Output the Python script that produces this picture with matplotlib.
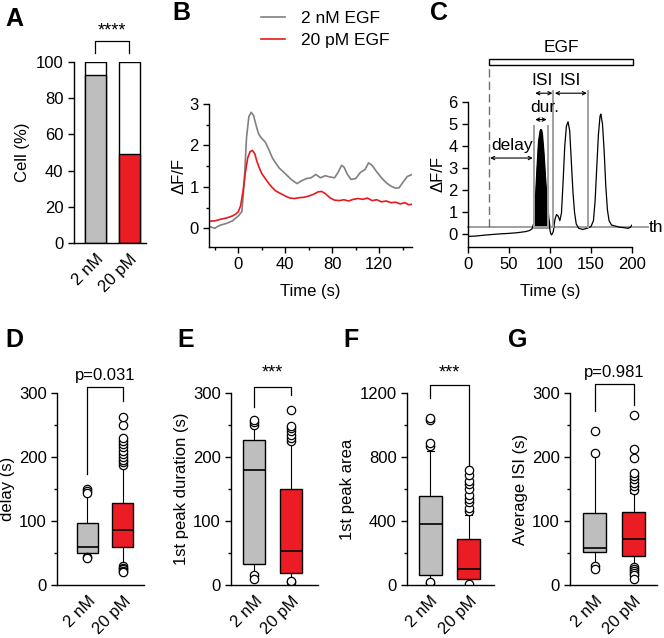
import numpy as np
import matplotlib
matplotlib.use("Agg")
import matplotlib.pyplot as plt
from matplotlib.patches import Rectangle

plt.rcParams['font.family'] = ['Liberation Sans', 'DejaVu Sans']
plt.rcParams['font.size'] = 12
plt.rcParams['axes.linewidth'] = 1.0

GRAY = "#bebebe"
RED = "#ec1c24"
LINE_GRAY = "#808080"
LINE_RED = "#e8191f"

# ---------------- data ----------------
groups = ["2 nM", "20 pM"]

# A: fraction of responding cells (%)
cell_pct = [93, 49]
sig_a = "****"

# B: mean traces
t_gray = [-25, -22, -20, -18, -15, -10, -5, 0, 3, 5, 7, 9, 11, 13, 15, 17, 19, 21, 23,
          26, 29, 32, 35, 40, 45, 50, 54, 58, 62, 66, 70, 74, 78, 82, 85, 88, 90, 93,
          96, 100, 104, 108, 111, 114, 118, 122, 126, 130, 134, 137, 140, 144, 148]
v_gray = [0.05, 0.02, 0.0, 0.04, 0.08, 0.12, 0.18, 0.3, 0.4, 1.1, 2.2, 2.7, 2.8, 2.72, 2.5,
          2.3, 2.2, 2.14, 2.08, 1.9, 1.7, 1.57, 1.45, 1.32, 1.18, 1.08, 1.15, 1.2, 1.22, 1.3,
          1.22, 1.27, 1.24, 1.22, 1.35, 1.52, 1.48, 1.3, 1.18, 1.2, 1.35, 1.42, 1.58, 1.52,
          1.36, 1.22, 1.1, 1.02, 0.97, 0.98, 1.1, 1.25, 1.3]
t_red = [-25, -20, -15, -10, -5, -2, 0, 2, 4, 6, 8, 10, 12, 14, 16, 18, 20, 23, 26, 29,
         32, 36, 40, 44, 48, 52, 56, 60, 64, 68, 71, 74, 78, 82, 86, 90, 94, 98, 102,
         106, 110, 114, 118, 122, 126, 130, 134, 138, 142, 145, 148]
v_red = [0.17, 0.18, 0.22, 0.25, 0.3, 0.35, 0.4, 0.55, 0.9, 1.35, 1.7, 1.85, 1.88, 1.8,
         1.6, 1.45, 1.32, 1.2, 1.08, 0.98, 0.9, 0.84, 0.78, 0.73, 0.72, 0.74, 0.75, 0.78,
         0.82, 0.88, 0.89, 0.84, 0.74, 0.68, 0.67, 0.69, 0.66, 0.7, 0.72, 0.7, 0.73, 0.67,
         0.69, 0.64, 0.66, 0.62, 0.63, 0.59, 0.62, 0.57, 0.58]

# C: single-cell example trace
t_c = [0, 10, 20, 30, 40, 50, 60, 70, 75, 78, 80, 82, 84, 86, 88, 89, 90, 92, 94, 96,
       98, 100, 101, 102, 104, 106, 108, 110, 112, 114, 116, 118, 120, 122, 124, 126,
       128, 130, 132, 135, 140, 145, 150, 153, 155, 157, 159, 161, 162, 164, 166, 168,
       170, 172, 175, 180, 185, 190, 195, 198, 200]
v_c = [-0.12, -0.1, -0.06, -0.03, 0.0, 0.02, 0.05, 0.1, 0.15, 0.22, 0.45, 1.4, 2.9, 4.2,
       4.7, 4.75, 4.6, 3.7, 2.5, 1.5, 0.7, 0.15, 0.0, -0.05, 0.1, 0.65, 0.88, 0.8, 0.6,
       0.95, 2.4, 4.0, 4.9, 5.1, 4.7, 3.3, 1.9, 0.95, 0.45, 0.25, 0.2, 0.25, 0.33, 0.6,
       1.5, 3.0, 4.5, 5.35, 5.45, 5.0, 3.8, 2.2, 1.1, 0.6, 0.4, 0.35, 0.3, 0.28, 0.25,
       0.3, 0.4]
threshold = 0.3
egf_start, egf_end = 26, 201
first_on, first_off = 80, 98
isi_marks = [104, 146]

# D-G: box statistics [2 nM, 20 pM]
delay_stats = dict(q1=[50, 60], med=[60, 86], q3=[97, 128], lo=[45, 35], hi=[142, 183],
                   fl=[[150, 147, 143, 44, 42], [188, 192, 196, 200, 205, 210, 215, 220,
                                                   225, 230, 250, 262, 30, 27, 25, 22, 20]])
dur_stats = dict(q1=[33, 18], med=[179, 53], q3=[227, 150], lo=[18, 9], hi=[248, 222],
                 fl=[[250, 255, 258, 15, 10], [225, 230, 235, 240, 245, 248, 273, 5, 7]])
area_stats = dict(q1=[62, 36], med=[382, 103], q3=[555, 288], lo=[22, 12], hi=[838, 440],
                  fl=[[870, 890, 1030, 1045, 15, 20],
                      [460, 480, 520, 540, 560, 600, 630, 650, 690, 720, 5]])
isi_stats = dict(q1=[52, 45], med=[58, 72], q3=[113, 114], lo=[33, 30], hi=[205, 143],
                 fl=[[240, 206, 30, 25], [148, 155, 160, 165, 170, 175, 198, 212, 265,
                                            28, 25, 22, 18, 15, 10]])

fig = plt.figure(figsize=(6.64, 6.38), dpi=100)


def clean(ax):
    ax.spines['top'].set_visible(False)
    ax.spines['right'].set_visible(False)
    ax.tick_params(direction='out', length=4, width=1, which='major', labelsize=12)
    ax.tick_params(direction='out', length=2.5, width=1, which='minor')


def bracket(ax, x1, x2, y1, y2, ytop, label, ytext, fs=12):
    ax.plot([x1, x1, x2, x2], [y1, ytop, ytop, y2], color='black', lw=0.9, clip_on=False)
    ax.text((x1 + x2) / 2, ytext, label, ha='center', va='bottom', fontsize=fs,
            clip_on=False)


# ---------------- A ----------------
axA = fig.add_axes([74 / 664, 1 - 243 / 638, 72 / 664, 181 / 638])
clean(axA)
xa = [1, 2]
axA.bar(xa, [100, 100], width=0.62, color='white', edgecolor='black', lw=1)
axA.bar(xa, cell_pct, width=0.62, color=[GRAY, RED], edgecolor='black', lw=1)
axA.set_xlim(0.37, 2.49)
axA.set_ylim(0, 100)
axA.set_yticks([0, 20, 40, 60, 80, 100])
axA.set_xticks(xa)
axA.set_xticklabels(groups, rotation=45, ha='right', rotation_mode='anchor')
axA.tick_params(axis='x', length=0, pad=6)
axA.set_ylabel("Cell (%)", labelpad=4)
bracket(axA, 1, 2, 105, 105, 111.5, sig_a, 112.5, fs=13)

# ---------------- B ----------------
axB = fig.add_axes([209 / 664, 1 - 247 / 638, 203 / 664, 143 / 638])
clean(axB)
axB.plot(t_gray, v_gray, color=LINE_GRAY, lw=1.2, label="2 nM EGF")
axB.plot(t_red, v_red, color=LINE_RED, lw=1.2, label="20 pM EGF")
axB.set_xlim(-25, 148)
axB.set_ylim(-0.45, 3)
axB.spines['left'].set_bounds(-0.45, 3)
axB.set_xticks([0, 40, 80, 120])
axB.set_xticks([-20, 20, 60, 100, 140], minor=True)
axB.set_yticks([0, 1, 2, 3])
axB.set_yticks([0.5, 1.5, 2.5], minor=True)
axB.set_xlabel("Time (s)", labelpad=8)
axB.set_ylabel("ΔF/F", labelpad=2)
axB.legend(loc='upper left', bbox_to_anchor=(0.18, 1.76), frameon=False, handlelength=1.4,
           handletextpad=0.9, labelspacing=0.4, fontsize=12.5)

# ---------------- C ----------------
axC = fig.add_axes([468 / 664, 1 - 247 / 638, 164 / 664, 145 / 638])
clean(axC)
axC.set_xlim(0, 200)
axC.set_ylim(-0.6, 6)
axC.axhline(threshold, xmin=0, xmax=1.1, color='#a0a0a0', lw=1.4, clip_on=False)
tc = np.array(t_c)
vc = np.array(v_c)
axC.fill_between(tc, vc, threshold, where=(tc >= first_on) & (tc <= first_off) & (vc >= threshold),
                 color='black', interpolate=True)
axC.plot(t_c, v_c, color='black', lw=0.9)
axC.plot([first_on, first_on], [threshold, 4.9], color='#a0a0a0', lw=1.4)
axC.plot([first_off, first_off], [threshold, 4.9], color='#a0a0a0', lw=1.4)
for xm in isi_marks:
    axC.plot([xm, xm], [threshold, 6.5], color='#a0a0a0', lw=1.4, clip_on=False)
axC.plot([egf_start, egf_start], [threshold, 7.7], color='#707070', lw=1, ls=(0, (6, 3)),
         clip_on=False)
axC.add_patch(Rectangle((egf_start, 7.7), egf_end - egf_start, 0.25, facecolor='white',
                        edgecolor='black', lw=1, clip_on=False))
axC.text((egf_start + egf_end) / 2, 8.15, "EGF", ha='center', va='bottom', fontsize=12.5)
arrow = dict(arrowstyle='<->', color='black', lw=0.8, shrinkA=0, shrinkB=0,
             mutation_scale=6)
axC.annotate("", xy=(egf_start + 1, 3.45), xytext=(first_on - 1, 3.45), arrowprops=arrow)
axC.text(egf_start + 2, 3.7, "delay", ha='left', va='bottom', fontsize=12.5)
axC.annotate("", xy=(first_on + 2, 5.2), xytext=(first_off - 2, 5.2), arrowprops=arrow)
axC.text(93, 5.4, "dur.", ha='center', va='bottom', fontsize=12.5, clip_on=False)
axC.annotate("", xy=(first_on + 2, 6.4), xytext=(isi_marks[0] - 1, 6.4), arrowprops=arrow,
             annotation_clip=False)
axC.annotate("", xy=(isi_marks[0] + 2, 6.4), xytext=(isi_marks[1] - 1, 6.4),
             arrowprops=arrow, annotation_clip=False)
axC.text(90, 6.65, "ISI", ha='center', va='bottom', fontsize=12.5, clip_on=False)
axC.text(124, 6.65, "ISI", ha='center', va='bottom', fontsize=12.5, clip_on=False)
axC.text(221, threshold, "th", ha='left', va='center', fontsize=12.5, clip_on=False)
axC.set_xticks([0, 50, 100, 150, 200])
axC.set_yticks([0, 1, 2, 3, 4, 5, 6])
axC.set_xlabel("Time (s)", labelpad=8)
axC.set_ylabel("ΔF/F", labelpad=2)


# ---------------- D-G ----------------
def box_panel(left, xlim, stats, ylim, yticks, yminor, ylabel, br, sig):
    ax = fig.add_axes([left / 664, 1 - 585 / 638, 87 / 664, 192 / 638])
    clean(ax)
    bx = []
    for i in range(2):
        bx.append(dict(q1=stats['q1'][i], med=stats['med'][i], q3=stats['q3'][i],
                       whislo=stats['lo'][i], whishi=stats['hi'][i],
                       fliers=stats['fl'][i], label=groups[i]))
    res = ax.bxp(bx, positions=[1, 2], widths=0.6, patch_artist=True, capwidths=0.18,
                 boxprops=dict(lw=1, edgecolor='black'),
                 medianprops=dict(color='black', lw=1.2),
                 whiskerprops=dict(color='black', lw=0.8),
                 capprops=dict(color='black', lw=0.8),
                 flierprops=dict(marker='o', mfc='white', mec='black', ms=6, mew=0.9))
    for patch, c in zip(res['boxes'], [GRAY, RED]):
        patch.set_facecolor(c)
    ax.set_xlim(*xlim)
    ax.set_ylim(*ylim)
    ax.set_yticks(yticks)
    ax.set_yticks(yminor, minor=True)
    ax.set_xticks([1, 2])
    ax.set_xticklabels(groups, rotation=45, ha='right', rotation_mode='anchor')
    ax.tick_params(axis='x', length=0, pad=6)
    ax.set_ylabel(ylabel, labelpad=3)
    y1, y2, ytop, ytext = br
    bracket(ax, 1, 2, y1, y2, ytop, sig, ytext, fs=12 if sig.startswith('p') else 13)
    return ax


box_panel(57, (0.14, 2.6), delay_stats, (0, 300), [0, 100, 200, 300], [50, 150, 250],
          "delay (s)", (173, 288, 309, 316), "p=0.031")
box_panel(231, (0.36, 2.75), dur_stats, (0, 300), [0, 100, 200, 300], [50, 150, 250],
          "1st peak duration (s)", (278, 297, 309, 318), "***")
box_panel(407, (0.4, 2.65), area_stats, (0, 1200), [0, 400, 800, 1200], [200, 600, 1000],
          "1st peak area", (1170, 750, 1250, 1272), "***")
box_panel(570, (0.37, 2.6), isi_stats, (0, 300), [0, 100, 200, 300], [50, 150, 250],
          "Average ISI (s)", (272, 281, 314, 320), "p=0.981")

# panel letters
for lab, x, y in [("A", 5, 26), ("B", 172, 20), ("C", 430, 20), ("D", 5, 347),
                  ("E", 177, 347), ("F", 343, 347), ("G", 508, 347)]:
    fig.text(x / 664, 1 - y / 638, lab, fontsize=18, fontweight='bold', ha='left',
             va='baseline')

fig.savefig("out.png", dpi=100)
